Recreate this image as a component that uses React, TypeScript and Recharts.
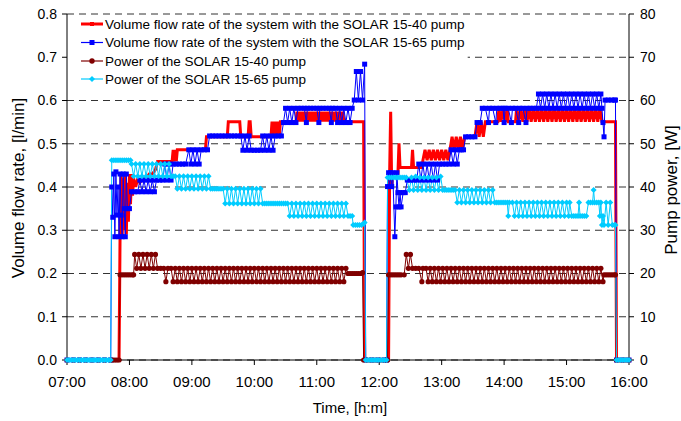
import React from "react";
import { LineChart, Line, XAxis, YAxis, CartesianGrid, ReferenceArea } from "recharts";

const seriesNames = [
  "Volume flow rate of the system with the SOLAR 15-40 pump",
  "Volume flow rate of the system with the SOLAR 15-65 pump",
  "Power of the SOLAR 15-40 pump",
  "Power of the SOLAR 15-65 pump",
];

// time in minutes after midnight
const timeTicks = [420, 480, 540, 600, 660, 720, 780, 840, 900, 960];
const flowTicks = [0, 0.1, 0.2, 0.3, 0.4, 0.5, 0.6, 0.7, 0.8];
const powerTicks = [0, 10, 20, 30, 40, 50, 60, 70, 80];

type Pt = [number, number];

// volume flow, SOLAR 15-40 [l/min]
const flow1540: Pt[] = [
  [420, 0], [430, 0], [440, 0], [450, 0], [460, 0], [470, 0],
  [471, 0.29], [472, 0.43], [473, 0.28], [474, 0.42], [475, 0.3], [476, 0.43], [477, 0.29], [478, 0.41],
  [479, 0.32], [480, 0.43], [481, 0.36], [482, 0.43], [483, 0.38], [484, 0.42], [486, 0.4], [488, 0.42],
  [490, 0.41], [493, 0.42], [496, 0.42], [499, 0.43], [502, 0.43], [505, 0.44],
  [507, 0.459], [510, 0.459], [513, 0.459], [516, 0.459], [519, 0.459], [521, 0.459],
  [522, 0.486], [523, 0.459], [524, 0.486], [525, 0.459], [526, 0.486],
  [530, 0.486], [535, 0.486], [540, 0.486], [545, 0.486], [550, 0.486], [553, 0.486],
  [554, 0.516], [560, 0.516], [566, 0.516], [572, 0.516], [574, 0.516],
  [575, 0.551], [580, 0.551], [586, 0.551],
  [587, 0.516], [590, 0.516], [594, 0.516],
  [595, 0.551], [596, 0.551], [597, 0.516],
  [602, 0.516], [608, 0.516], [612, 0.516], [616, 0.516],
  [617, 0.551], [618, 0.516], [619, 0.551], [620, 0.516], [621, 0.551], [622, 0.516], [623, 0.551], [624, 0.516], [625, 0.551],
  [630, 0.551], [635, 0.551], [640, 0.551],
  [641, 0.574], [642, 0.551], [643, 0.574], [644, 0.551], [645, 0.574], [646, 0.551], [647, 0.574], [648, 0.551],
  [649, 0.574], [650, 0.551], [651, 0.574], [652, 0.551], [653, 0.574], [654, 0.551], [655, 0.574], [656, 0.551],
  [657, 0.574], [658, 0.551], [659, 0.574], [660, 0.551], [661, 0.574], [662, 0.551], [663, 0.574], [664, 0.551],
  [665, 0.574], [666, 0.551], [667, 0.574], [668, 0.551], [669, 0.574], [670, 0.551], [671, 0.574], [672, 0.551],
  [673, 0.574], [674, 0.551], [675, 0.574], [676, 0.551], [677, 0.574], [678, 0.551], [679, 0.574], [680, 0.551],
  [681, 0.574], [682, 0.551], [683, 0.574], [684, 0.551], [685, 0.574], [686, 0.551],
  [690, 0.551], [695, 0.551], [700, 0.551], [705, 0.551],
  [706, 0], [715, 0], [722, 0], [729, 0],
  [730, 0.432], [731, 0.574], [732, 0.4], [733, 0.432], [738, 0.432], [739, 0.501], [740, 0.445], [745, 0.445],
  [751, 0.445], [752, 0.486], [753, 0.445], [758, 0.445], [761, 0.445],
  [762, 0.462], [764, 0.486], [766, 0.462], [768, 0.486], [770, 0.462], [772, 0.486], [774, 0.462], [776, 0.486],
  [778, 0.462], [780, 0.486], [782, 0.462], [784, 0.486], [786, 0.462], [788, 0.486],
  [790, 0.516], [792, 0.486], [794, 0.516], [796, 0.486], [798, 0.516], [800, 0.486], [802, 0.516],
  [806, 0.516], [809, 0.516], [812, 0.516],
  [814, 0.551], [816, 0.516], [818, 0.551], [820, 0.516], [822, 0.551],
  [825, 0.551], [830, 0.551], [834, 0.551],
  [835, 0.582], [837, 0.551], [839, 0.582], [841, 0.551], [843, 0.582], [844, 0.551],
  [848, 0.551], [851, 0.551],
  [852, 0.582], [854, 0.551], [856, 0.582], [858, 0.551], [860, 0.582], [862, 0.551],
  [864, 0.582], [866, 0.551], [868, 0.582], [870, 0.551], [872, 0.582], [874, 0.551], [876, 0.582], [878, 0.551],
  [880, 0.582], [882, 0.551], [884, 0.582], [886, 0.551], [888, 0.582], [890, 0.551], [892, 0.582], [894, 0.551],
  [896, 0.582], [898, 0.551], [900, 0.582], [902, 0.551], [904, 0.582], [906, 0.551], [908, 0.582], [910, 0.551],
  [912, 0.582], [914, 0.551], [916, 0.582], [918, 0.551], [920, 0.582], [922, 0.551], [924, 0.582], [926, 0.551],
  [928, 0.582], [930, 0.551], [932, 0.582], [934, 0.551],
  [937, 0.551], [941, 0.551], [944, 0.551], [947, 0.551],
  [948, 0], [954, 0], [960, 0],
];

// volume flow, SOLAR 15-65 [l/min]
const flow1565: Pt[] = [
  [420, 0], [426, 0], [432, 0], [438, 0], [444, 0], [450, 0], [456, 0], [462, 0],
  [463, 0.4], [464, 0.33], [465, 0.43], [466, 0.285], [467, 0.435], [468, 0.335], [469, 0.4], [470, 0.285],
  [471, 0.43], [472, 0.335], [473, 0.285], [474, 0.43], [475, 0.35], [476, 0.285], [477, 0.43], [478, 0.35], [480, 0.35],
  [482, 0.389], [485, 0.389], [488, 0.389], [490, 0.416], [492, 0.389], [494, 0.416], [496, 0.389], [498, 0.416],
  [500, 0.389], [502, 0.416], [504, 0.389], [506, 0.416],
  [509, 0.416], [512, 0.416], [514, 0.453], [516, 0.416], [518, 0.453], [520, 0.416], [522, 0.453],
  [525, 0.453], [528, 0.453], [531, 0.453], [534, 0.453],
  [537, 0.486], [539, 0.453], [541, 0.486], [543, 0.453], [545, 0.486], [547, 0.453], [549, 0.486],
  [552, 0.486], [555, 0.486],
  [557, 0.518], [560, 0.518], [563, 0.518], [566, 0.518], [569, 0.518], [572, 0.518], [575, 0.518], [578, 0.518],
  [581, 0.518], [584, 0.518], [587, 0.518],
  [589, 0.485], [591, 0.518], [593, 0.485], [595, 0.518], [597, 0.485],
  [600, 0.485], [603, 0.485], [606, 0.485],
  [608, 0.518], [610, 0.485], [612, 0.518], [614, 0.485], [616, 0.518], [618, 0.485], [620, 0.518],
  [623, 0.518], [626, 0.518],
  [628, 0.549], [630, 0.582], [632, 0.549], [634, 0.582], [636, 0.549], [638, 0.582], [640, 0.549], [642, 0.582],
  [645, 0.582], [648, 0.582], [650, 0.549], [651, 0.582], [654, 0.582], [657, 0.582], [660, 0.582], [662, 0.549],
  [663, 0.582], [666, 0.582], [669, 0.582], [672, 0.582], [674, 0.549], [675, 0.582], [678, 0.582], [680, 0.549],
  [682, 0.582], [684, 0.549], [686, 0.582], [688, 0.549], [690, 0.582], [692, 0.549], [694, 0.582],
  [696, 0.601], [698, 0.667], [700, 0.601], [702, 0.667], [704, 0.601], [706, 0.684],
  [707, 0], [713, 0], [719, 0], [725, 0], [727, 0],
  [728, 0.401], [729, 0.433], [730, 0.401], [731, 0.433], [732, 0.401], [733, 0.433], [735, 0.285], [736, 0.354],
  [737, 0.433], [738, 0.387], [739, 0.354], [740, 0.387], [741, 0.354], [743, 0.387], [745, 0.387],
  [747, 0.416], [750, 0.416], [753, 0.416], [756, 0.416],
  [758, 0.453], [760, 0.416], [762, 0.453], [764, 0.416], [766, 0.453], [768, 0.416], [770, 0.453], [772, 0.416],
  [774, 0.453], [776, 0.416], [778, 0.453],
  [781, 0.453], [784, 0.453], [787, 0.453],
  [789, 0.486], [791, 0.453], [793, 0.486], [795, 0.453], [797, 0.486],
  [799, 0.486], [801, 0.486],
  [803, 0.516], [806, 0.516], [809, 0.516], [812, 0.516],
  [814, 0.549], [817, 0.549],
  [819, 0.582], [822, 0.582], [825, 0.549], [826, 0.582], [829, 0.582], [832, 0.549], [833, 0.582], [836, 0.582],
  [839, 0.582], [840, 0.549], [841, 0.582], [844, 0.582], [847, 0.549], [848, 0.582], [851, 0.582], [854, 0.549],
  [855, 0.582], [858, 0.582], [861, 0.549], [862, 0.582], [865, 0.582], [868, 0.582], [871, 0.582],
  [873, 0.615], [875, 0.582], [877, 0.615], [879, 0.582], [881, 0.615], [883, 0.582], [885, 0.615], [887, 0.582],
  [889, 0.615], [891, 0.582], [893, 0.615], [895, 0.582], [897, 0.615], [899, 0.582], [901, 0.615], [903, 0.582],
  [905, 0.615], [907, 0.582], [909, 0.615], [911, 0.582], [913, 0.615], [915, 0.582], [917, 0.615], [919, 0.582],
  [921, 0.615], [923, 0.582], [925, 0.615], [927, 0.582], [929, 0.615], [931, 0.582], [933, 0.615],
  [934, 0.582], [935, 0.549], [936, 0.516], [937, 0.601], [940, 0.601], [943, 0.601], [946, 0.601], [947, 0.601],
  [948, 0], [954, 0], [960, 0],
];

// pump power, SOLAR 15-40 [W]
const power1540: Pt[] = [
  [420, 0], [426, 0], [432, 0], [438, 0], [444, 0], [450, 0], [456, 0], [462, 0], [464, 0], [466, 0], [468, 0], [470, 0],
  [471, 19.7], [473, 19.7], [475, 19.7], [477, 19.7], [479, 19.7], [481, 19.7], [483, 19.7], [484, 19.7],
  [485, 24.4], [487, 21.2], [489, 24.4], [491, 21.2], [493, 24.4], [495, 21.2], [497, 24.4], [499, 21.2],
  [501, 24.4], [503, 21.2], [505, 24.4], [507, 21.2],
  [510, 21.2], [513, 21.2], [515, 18.1], [517, 21.2], [520, 21.2],
  [522, 18.1], [524, 21.2], [526, 18.1], [528, 21.2], [530, 18.1], [532, 21.2], [534, 18.1], [536, 21.2],
  [538, 18.1], [540, 21.2], [542, 18.1], [544, 21.2], [546, 18.1], [548, 21.2], [550, 18.1], [552, 21.2],
  [554, 18.1], [556, 21.2], [558, 18.1], [560, 21.2], [562, 18.1], [564, 21.2], [566, 18.1], [568, 21.2],
  [570, 18.1], [572, 21.2], [574, 18.1], [576, 21.2], [578, 18.1], [580, 21.2], [582, 18.1], [584, 21.2],
  [586, 18.1], [588, 21.2], [590, 18.1], [592, 21.2], [594, 18.1], [596, 21.2], [598, 18.1], [600, 21.2],
  [602, 18.1], [604, 21.2], [606, 18.1], [608, 21.2], [610, 18.1], [612, 21.2], [614, 18.1], [616, 21.2],
  [618, 18.1], [620, 21.2], [622, 18.1], [624, 21.2], [626, 18.1], [628, 21.2], [630, 18.1], [632, 21.2],
  [634, 18.1], [636, 21.2], [638, 18.1], [640, 21.2], [642, 18.1], [644, 21.2], [646, 18.1], [648, 21.2],
  [650, 18.1], [652, 21.2], [654, 18.1], [656, 21.2], [658, 18.1], [660, 21.2], [662, 18.1], [664, 21.2],
  [666, 18.1], [668, 21.2], [670, 18.1], [672, 21.2], [674, 18.1], [676, 21.2], [678, 18.1], [680, 21.2],
  [682, 18.1], [684, 21.2], [686, 18.1], [688, 21.2],
  [690, 20], [692, 20], [694, 20], [696, 20], [698, 20], [700, 20], [702, 20], [704, 20.2],
  [705, 0], [708, 0], [711, 0], [714, 0], [717, 0], [720, 0], [723, 0], [726, 0], [728, 0],
  [729, 19.7], [731, 19.7], [733, 19.7], [735, 19.7], [737, 19.7], [739, 19.7], [741, 19.7], [744, 19.7],
  [746, 24.4], [748, 21.2], [750, 24.4], [752, 21.2],
  [755, 21.2], [758, 21.2], [761, 18.1], [762, 21.2], [765, 21.2],
  [767, 18.1], [769, 21.2], [771, 18.1], [773, 21.2], [775, 18.1], [777, 21.2], [779, 18.1], [781, 21.2],
  [783, 18.1], [785, 21.2], [787, 18.1], [789, 21.2], [791, 18.1], [793, 21.2], [795, 18.1], [797, 21.2],
  [799, 18.1], [801, 21.2], [803, 18.1], [805, 21.2], [807, 18.1], [809, 21.2], [811, 18.1], [813, 21.2],
  [815, 18.1], [817, 21.2], [819, 18.1], [821, 21.2], [823, 18.1], [825, 21.2], [827, 18.1], [829, 21.2],
  [831, 18.1], [833, 21.2], [835, 18.1], [837, 21.2], [839, 18.1], [841, 21.2], [843, 18.1], [845, 21.2],
  [847, 18.1], [849, 21.2], [851, 18.1], [853, 21.2], [855, 18.1], [857, 21.2], [859, 18.1], [861, 21.2],
  [863, 18.1], [865, 21.2], [867, 18.1], [869, 21.2], [871, 18.1], [873, 21.2], [875, 18.1], [877, 21.2],
  [879, 18.1], [881, 21.2], [883, 18.1], [885, 21.2], [887, 18.1], [889, 21.2], [891, 18.1], [893, 21.2],
  [895, 18.1], [897, 21.2], [899, 18.1], [901, 21.2], [903, 18.1], [905, 21.2], [907, 18.1], [909, 21.2],
  [911, 18.1], [913, 21.2], [915, 18.1], [917, 21.2], [919, 18.1], [921, 21.2], [923, 18.1], [925, 21.2],
  [927, 18.1], [929, 21.2], [931, 18.1], [933, 21.2], [935, 18.1],
  [936, 19.7], [938, 19.7], [940, 19.7], [942, 19.7], [944, 19.7], [946, 19.7], [947, 19.7],
  [948, 0], [951, 0], [954, 0], [957, 0], [960, 0],
];

// pump power, SOLAR 15-65 [W]
const power1565: Pt[] = [
  [420, 0], [422, 0], [424, 0], [426, 0], [428, 0], [430, 0], [432, 0], [434, 0], [436, 0], [438, 0], [440, 0],
  [442, 0], [444, 0], [446, 0], [448, 0], [450, 0], [452, 0], [454, 0], [456, 0], [458, 0], [460, 0], [462, 0],
  [463, 46.2], [465, 46.2], [467, 46.2], [469, 46.2], [471, 46.2], [473, 46.2], [475, 46.2], [477, 46.2], [479, 46.2], [481, 46.2],
  [482, 45.3], [484, 42.5], [486, 45.3], [488, 42.5], [490, 45.3], [492, 42.5], [494, 45.3], [496, 42.5],
  [498, 45.3], [500, 42.5], [502, 45.3], [504, 42.5], [506, 45.3], [508, 42.5], [510, 45.3], [512, 42.5],
  [514, 45.3], [516, 42.5], [518, 45.3], [520, 42.5],
  [522, 42.5], [524, 42.5],
  [526, 39.6], [528, 42.5], [530, 39.6], [532, 42.5], [534, 39.6], [536, 42.5], [538, 39.6], [540, 42.5],
  [542, 39.6], [544, 42.5], [546, 39.6], [548, 42.5], [550, 39.6], [552, 42.5], [554, 39.6], [556, 42.5], [558, 39.6],
  [560, 39.6], [562, 39.6], [564, 39.6], [566, 39.6], [568, 39.6], [570, 39.6],
  [572, 36.2], [574, 39.6], [576, 36.2], [578, 39.6], [580, 36.2], [582, 39.6], [584, 36.2], [586, 39.6],
  [588, 36.2], [590, 39.6], [592, 36.2], [594, 39.6], [596, 36.2], [598, 39.6], [600, 36.2], [602, 39.6],
  [604, 36.2], [606, 39.6], [608, 36.2],
  [610, 36.2], [612, 36.2], [614, 36.2], [616, 36.2], [618, 36.2], [620, 36.2], [622, 36.2], [624, 36.2],
  [626, 36.2], [628, 36.2], [630, 36.2], [632, 36.2],
  [634, 33.3], [636, 36.2], [638, 33.3], [640, 36.2], [642, 33.3], [644, 36.2], [646, 33.3], [648, 36.2],
  [650, 33.3], [652, 36.2], [654, 33.3], [656, 36.2], [658, 33.3], [660, 36.2], [662, 33.3], [664, 36.2],
  [666, 33.3], [668, 36.2], [670, 33.3], [672, 36.2], [674, 33.3], [676, 36.2], [678, 33.3], [680, 36.2],
  [682, 33.3], [684, 36.2], [686, 33.3], [688, 36.2], [690, 33.3],
  [692, 33.3], [694, 33.3],
  [695, 31.2], [697, 31.2], [699, 31.2], [701, 31.2], [703, 31.2], [705, 31.5], [706, 31.8],
  [707, 0], [709, 0], [711, 0], [713, 0], [715, 0], [717, 0], [719, 0], [721, 0], [723, 0], [725, 0], [727, 0],
  [728, 42.2], [730, 42.2], [732, 42.2], [734, 42.2], [736, 42.2], [738, 42.2], [740, 42.2], [742, 42.2], [744, 42.2], [746, 42.2],
  [749, 39.3], [751, 42.2], [753, 39.3], [755, 42.4], [757, 39.3], [759, 42.2], [761, 39.3], [763, 42.2],
  [765, 39.3], [767, 42.2], [769, 39.3], [771, 42.2], [773, 39.3], [775, 42.2], [777, 39.3], [779, 42.4],
  [781, 39.3], [783, 39.3], [785, 39.3], [787, 39.3], [789, 39.3], [791, 39.3], [793, 39.3],
  [795, 36.4], [797, 39.3], [799, 36.4], [801, 39.3], [803, 36.4], [805, 39.3], [807, 36.4], [809, 39.3],
  [811, 36.4], [813, 39.3], [815, 36.4], [817, 39.3], [819, 36.4], [821, 39.3], [823, 36.4], [825, 39.3],
  [827, 36.4], [829, 39.3],
  [831, 36.4], [833, 36.4], [835, 36.4], [837, 36.4], [839, 36.4], [841, 36.4], [843, 36.4], [844, 33.3], [845, 36.4], [848, 36.4],
  [850, 33.3], [852, 36.4], [854, 33.3], [856, 36.4], [858, 33.3], [860, 36.4], [862, 33.3], [864, 36.4],
  [866, 33.3], [868, 36.4], [870, 33.3], [872, 36.4], [874, 33.3], [876, 36.4], [878, 33.3], [880, 36.4],
  [882, 33.3], [884, 36.4], [886, 33.3], [888, 36.4], [890, 33.3], [892, 36.4], [894, 33.3], [896, 36.4],
  [898, 33.3], [900, 36.4], [902, 33.3], [903, 36.4],
  [905, 33.3], [907, 33.3], [909, 33.3], [911, 33.3], [912, 36.4], [913, 33.3], [915, 33.3], [917, 33.3], [919, 33.3],
  [921, 36.4], [923, 36.4], [925, 36.4], [926, 39.3], [927, 36.4], [929, 36.4], [931, 36.4], [932, 33.3], [933, 36.4], [934, 31.2],
  [935, 33.3], [936, 31.2], [938, 36.4], [940, 31.2], [942, 36.4], [944, 31.2], [946, 31.2], [947, 31.2],
  [948, 0], [950, 0], [952, 0], [954, 0], [956, 0], [958, 0], [960, 0],
];

const W = 681;
const H = 421;
const FONT = "'Liberation Sans', Arial, Helvetica, sans-serif";

const RED = "#ff0000";
const BLUE = "#0000ff";
const MAROON = "#800000";
const CYAN = "#00ccff";

const toRows = (pts: Pt[]) => pts.map(([t, v]) => ({ t, v }));

const hhmm = (t: number) => `${String(Math.floor(t / 60)).padStart(2, "0")}:${String(t % 60).padStart(2, "0")}`;

const squareDot = (color: string, s: number) => (p: any) => {
  if (p.cx == null || p.cy == null) return <g key={`sq${p.index}`} />;
  return <rect key={`sq${p.index}`} x={p.cx - s / 2} y={p.cy - s / 2} width={s} height={s} fill={color} />;
};

const circleDot = (color: string, r: number) => (p: any) => {
  if (p.cx == null || p.cy == null) return <g key={`ci${p.index}`} />;
  return <circle key={`ci${p.index}`} cx={p.cx} cy={p.cy} r={r} fill={color} />;
};

const diamondDot = (color: string, r: number) => (p: any) => {
  if (p.cx == null || p.cy == null) return <g key={`di${p.index}`} />;
  const { cx, cy } = p;
  return <path key={`di${p.index}`} d={`M${cx},${cy - r}L${cx + r},${cy}L${cx},${cy + r}L${cx - r},${cy}Z`} fill={color} />;
};

function LegendOverlay() {
  const rows = [24, 42.5, 61, 79];
  const x1 = 81;
  const x2 = 103;
  const mx = 92;
  return (
    <g fontFamily={FONT} fontSize={13.5} fill="#000">
      <line x1={x1} x2={x2} y1={rows[0]} y2={rows[0]} stroke={RED} strokeWidth={3} />
      <rect x={mx - 2} y={rows[0] - 2} width={4} height={4} fill={RED} />
      <line x1={x1} x2={x2} y1={rows[1]} y2={rows[1]} stroke={BLUE} strokeWidth={1.2} />
      <rect x={mx - 2.5} y={rows[1] - 2.5} width={5} height={5} fill={BLUE} />
      <line x1={x1} x2={x2} y1={rows[2]} y2={rows[2]} stroke={MAROON} strokeWidth={1.2} />
      <circle cx={mx} cy={rows[2]} r={2.7} fill={MAROON} />
      <line x1={x1} x2={x2} y1={rows[3]} y2={rows[3]} stroke={CYAN} strokeWidth={1.2} />
      <path d={`M${mx},${rows[3] - 3}L${mx + 3},${rows[3]}L${mx},${rows[3] + 3}L${mx - 3},${rows[3]}Z`} fill={CYAN} />
      {seriesNames.map((name, i) => (
        <text key={name} x={105} y={rows[i]} dominantBaseline="central">
          {name}
        </text>
      ))}
    </g>
  );
}

export default function App() {
  const tickStyle = { fontSize: 14, fill: "#000", fontFamily: FONT };
  return (
    <div style={{ position: "absolute", left: 0, top: 0, width: W, height: H, background: "#fff" }}>
      <LineChart width={W} height={H} margin={{ top: 14, right: 0, bottom: 0, left: 0 }}>
        <CartesianGrid yAxisId="flow" vertical={false} stroke="#333" strokeDasharray="7 5" />
        <XAxis
          dataKey="t"
          type="number"
          domain={[420, 960]}
          ticks={timeTicks}
          tickFormatter={hhmm}
          height={61}
          tickSize={5}
          tickMargin={11}
          stroke="#000"
          tick={{ ...tickStyle, fontSize: 15 }}
        />
        <YAxis
          yAxisId="flow"
          domain={[0, 0.8]}
          ticks={flowTicks}
          tickFormatter={(v: number) => v.toFixed(1)}
          width={67}
          tickSize={5}
          tickMargin={5}
          stroke="#000"
          tick={tickStyle}
        />
        <YAxis
          yAxisId="power"
          orientation="right"
          domain={[0, 80]}
          ticks={powerTicks}
          width={52}
          tickSize={5}
          tickMargin={6}
          stroke="#000"
          tick={tickStyle}
        />
        <ReferenceArea yAxisId="flow" x1={420} x2={805} y1={0.63} y2={0.795} fill="#fff" fillOpacity={1} stroke="none" />
        <Line
          yAxisId="flow"
          data={toRows(flow1540)}
          dataKey="v"
          name={seriesNames[0]}
          type="linear"
          stroke={RED}
          strokeWidth={3}
          dot={false}
          activeDot={false}
          isAnimationActive={false}
        />
        <Line
          yAxisId="flow"
          data={toRows(flow1565)}
          dataKey="v"
          name={seriesNames[1]}
          type="linear"
          stroke={BLUE}
          strokeWidth={1}
          dot={squareDot(BLUE, 5)}
          activeDot={false}
          isAnimationActive={false}
        />
        <Line
          yAxisId="power"
          data={toRows(power1540)}
          dataKey="v"
          name={seriesNames[2]}
          type="linear"
          stroke={MAROON}
          strokeWidth={1}
          dot={circleDot(MAROON, 2.6)}
          activeDot={false}
          isAnimationActive={false}
        />
        <Line
          yAxisId="power"
          data={toRows(power1565)}
          dataKey="v"
          name={seriesNames[3]}
          type="linear"
          stroke={CYAN}
          strokeWidth={1}
          dot={diamondDot(CYAN, 3)}
          activeDot={false}
          isAnimationActive={false}
        />
      </LineChart>
      <svg
        width={W}
        height={H}
        style={{ position: "absolute", left: 0, top: 0, pointerEvents: "none" }}
      >
        <LegendOverlay />
        <g fontFamily={FONT} fontSize={17} fill="#000" textAnchor="middle">
          <text x={18} y={188} transform="rotate(-90 18 188)" dominantBaseline="central">
            Volume flow rate, [l/min]
          </text>
          <text x={671} y={190} transform="rotate(-90 671 190)" dominantBaseline="central">
            Pump power, [W]
          </text>
        </g>
        <text x={350} y={407} fontFamily={FONT} fontSize={15} textAnchor="middle" dominantBaseline="central">
          Time, [h:m]
        </text>
      </svg>
    </div>
  );
}
